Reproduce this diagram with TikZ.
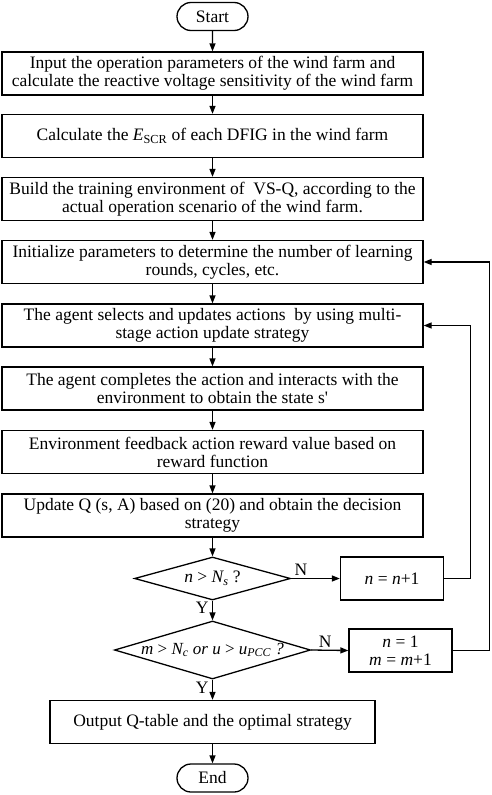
\documentclass[tikz,border=0pt]{standalone}
\usepackage{fontspec}
\setmainfont{Liberation Serif}
\usetikzlibrary{arrows.meta, positioning, shapes.geometric, shapes.misc}

\tikzset{
  stepbox/.style={draw, line width=1.3pt, minimum width=421pt, minimum height=43pt,
    align=center, inner sep=1pt},
  termbox/.style={draw, line width=1.3pt, rounded rectangle, minimum width=73pt,
    minimum height=28pt, inner sep=1pt},
  testbox/.style={draw, line width=1.3pt, diamond, inner sep=0pt},
  sidebox/.style={draw, line width=1.3pt, minimum width=103pt, minimum height=43pt,
    align=center, inner sep=1pt},
  flow/.style={line width=1.3pt, -{Triangle[length=8pt, width=6pt]}},
}

\begin{document}
\begin{tikzpicture}[x=1pt, y=-1pt, font=\fontsize{17.5}{18}\selectfont]
  \useasboundingbox (0,0) rectangle (491,795);

  % Main column
  \node[termbox] (start) at (212.5,16.5) {Start};
  \node[stepbox] (input) at (212.5,73.5)
    {Input the operation parameters of the wind farm and\\calculate the reactive voltage sensitivity of the wind farm};
  \node[stepbox] (escr) at (212.5,136)
    {Calculate the \textit{E}\textsubscript{SCR} of each DFIG in the wind farm};
  \node[stepbox] (env) at (212.5,199)
    {Build the training environment of \ VS-Q, according to the\\actual operation scenario of the wind farm.};
  \node[stepbox] (init) at (212.5,262)
    {Initialize parameters to determine the number of learning\\rounds, cycles, etc.};
  \node[stepbox] (act) at (212.5,325.5)
    {The agent selects and updates actions \ by using multi-\\stage action update strategy};
  \node[stepbox] (state) at (212.5,388.5)
    {The agent completes the action and interacts with the\\environment to obtain the state s\textquotesingle};
  \node[stepbox] (reward) at (212.5,452)
    {Environment feedback action reward value based on\\reward function};
  \node[stepbox] (upd) at (212.5,515.5)
    {Update Q (s, A) based on (20) and obtain the decision\\strategy};

  % Decisions
  \node[testbox, minimum width=156pt, minimum height=43pt,
    label={center:\textit{n} > \textit{N\textsubscript{s}} ?}] (testn) at (212.5,578.5) {};
  \node[testbox, minimum width=196pt, minimum height=58pt,
    label={[font=\fontsize{17}{18}\selectfont]center:\textit{m} > \textit{N\textsubscript{c} or u} > \textit{u\textsubscript{PCC} ?}}]
    (testm) at (212.5,650) {};
  \node[sidebox] (incn) at (392,578.5) {\textit{n} = \textit{n}+1};
  \node[sidebox] (reset) at (400.5,650.5) {\textit{n} = 1\\\textit{m} = \textit{m}+1};

  \node[stepbox, minimum width=325pt] (out) at (212.5,722)
    {Output Q-table and the optimal strategy};
  \node[termbox] (stop) at (212.5,778) {End};

  % Connectors
  \draw[flow] (start) -- (input);
  \draw[flow] (input) -- (escr);
  \draw[flow] (escr) -- (env);
  \draw[flow] (env) -- (init);
  \draw[flow] (init) -- (act);
  \draw[flow] (act) -- (state);
  \draw[flow] (state) -- (reward);
  \draw[flow] (reward) -- (upd);
  \draw[flow] (upd) -- (testn);
  \draw[flow] (testn) -- node[left, pos=0.35] {Y} (testm);
  \draw[flow] (testm) -- node[left, pos=0.4] {Y} (out);
  \draw[flow] (out) -- (stop);
  \draw[flow] (testn.east) -- node[above, pos=0.2, inner sep=2pt] {N} (incn.west);
  \draw[flow] (testm.east) -- node[above, pos=0.38, inner sep=2pt] {N} (reset.west);
  % Loops back
  \draw[flow] (incn.east) -- ++(26,0) |- (act.east);
  \draw[flow] (reset.east) -- ++(37,0) |- (init.east);
\end{tikzpicture}
\end{document}
